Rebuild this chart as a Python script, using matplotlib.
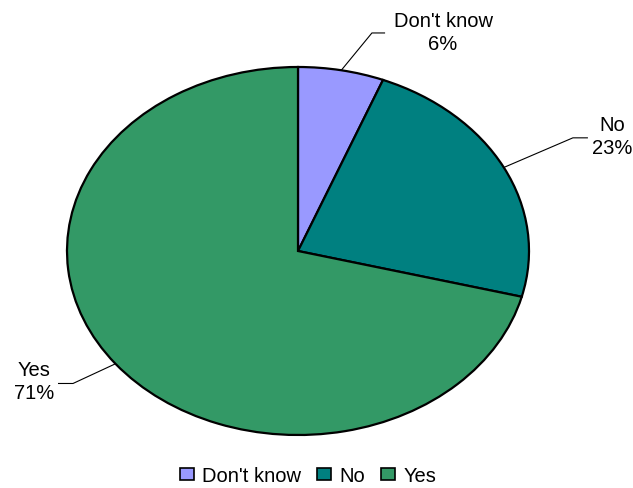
import numpy as np
import matplotlib.pyplot as plt

plt.rcParams['font.family'] = ['Liberation Sans', 'DejaVu Sans']

# Survey answers
categories = ["Don't know", "No", "Yes"]
shares = [6, 23, 71]
colors = ['#9999FF', '#008080', '#339966']

W, H = 633, 488
fig = plt.figure(figsize=(W / 100, H / 100), dpi=100)

# axes box = bounding box of the (flattened) pie, in pixels
left, right, top, bottom = 67, 529, 67, 435
ax = fig.add_axes([left / W, (H - bottom) / H, (right - left) / W, (bottom - top) / H])

wedges, _ = ax.pie(shares, colors=colors, startangle=90, counterclock=False,
                   radius=1.0, wedgeprops=dict(edgecolor='black', linewidth=1.6))
ax.set_aspect('auto')
ax.set_xlim(-1, 1)
ax.set_ylim(-1, 1)
ax.axis('off')

# label text centre, elbow and end of the leader line (axes data units)
label_pos = [(0.628, 1.185), (1.362, 0.62), (-1.143, -0.71)]
elbows = [((0.320, 1.185), (0.377, 1.185)),
          ((1.190, 0.615), (1.255, 0.615)),
          ((-0.974, -0.720), (-1.039, -0.720))]

for w, name, val, (tx, ty), (elb, end) in zip(wedges, categories, shares, label_pos, elbows):
    mid = np.deg2rad((w.theta1 + w.theta2) / 2)
    x0, y0 = np.cos(mid), np.sin(mid)
    ax.plot([x0, elb[0], end[0]], [y0, elb[1], end[1]], color='black', lw=0.8,
            clip_on=False, solid_capstyle='butt')
    ax.text(tx, ty, f'{name}\n{val}%', ha='center', va='center', fontsize=14.5,
            linespacing=1.25, clip_on=False)

handles = [plt.Rectangle((0, 0), 1, 1, facecolor=c, edgecolor='black', lw=1.2) for c in colors]
fig.legend(handles, categories, loc='center', bbox_to_anchor=(308 / W, (H - 476) / H),
           ncol=3, frameon=False, fontsize=14.5, handlelength=0.7, handleheight=0.55,
           handletextpad=0.4, columnspacing=0.8, borderpad=0.2)

fig.savefig('out.png', dpi=100)
